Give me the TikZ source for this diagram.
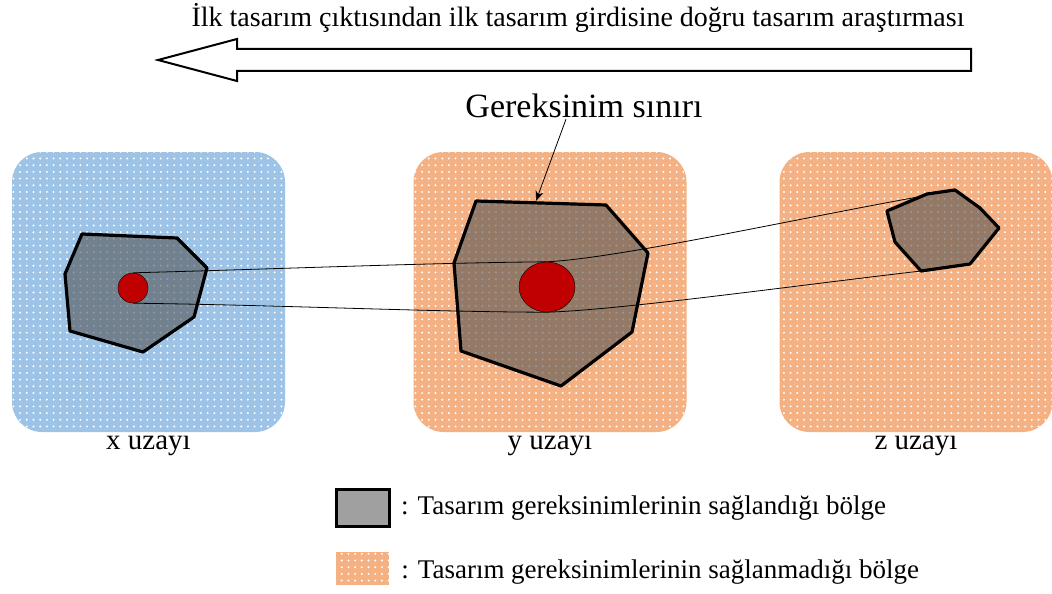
\documentclass[tikz,border=0pt]{standalone}
\usepackage{fontspec}
\setmainfont{Liberation Serif}
\usetikzlibrary{arrows.meta,positioning,shapes.geometric,patterns.meta}
\definecolor{spaceblue}{RGB}{157,195,230}
\definecolor{spaceorange}{RGB}{244,177,131}
\definecolor{corered}{RGB}{192,0,0}
\definecolor{okgray}{RGB}{160,160,160}

\begin{document}
\begin{tikzpicture}[x=1pt,y=-1pt,
  dotfill/.style={pattern={Dots[distance=6.7pt,radius=1.1pt]},pattern color=white},
  space/.style={rounded corners=30pt,minimum width=273pt,minimum height=280pt,
                postaction={dotfill}},
  region/.style={draw,line width=3.2pt,line join=round,
                 fill={rgb,255:red,85;green,85;blue,85},fill opacity=0.6},
  core/.style={draw,thin,fill=corered,inner sep=0pt},
  link/.style={line width=0.8pt},
  pointer/.style={-{Stealth[length=10pt,width=8pt,inset=3pt]},line width=0.8pt},
  lbl/.style={font=\fontsize{29}{31}\selectfont,inner sep=1pt},
  leg/.style={font=\fontsize{27}{29}\selectfont,anchor=west,inner sep=1pt}
]
\useasboundingbox (0,0) rectangle (1052,594);

% heading and the wide hollow arrow
\node[font=\fontsize{28}{30}\selectfont] (title) at (578,18)
  {İlk tasarım çıktısından ilk tasarım girdisine doğru tasarım araştırması};
\draw[line width=2pt,line join=miter] (971,49) -- (237,49) -- (237,39) -- (158,60)
  -- (237,81) -- (237,71) -- (971,71) -- cycle;

% the three spaces
\node[space,fill=spaceblue]   (xspace) at (148.5,292) {};
\node[space,fill=spaceorange] (yspace) at (550,292)   {};
\node[space,fill=spaceorange] (zspace) at (916,292)   {};
\node[lbl,below=2pt of xspace] (xname) {x uzayı};
\node[lbl,below=2pt of yspace] (yname) {y uzayı};
\node[lbl,below=2pt of zspace] (zname) {z uzayı};

% regions where the requirements hold
\draw[region] (82,234) -- (177,238) -- (207,268) -- (194,317) -- (143,352)
  -- (70,331) -- (65,274) -- cycle;
\draw[region] (476,201) -- (606,205) -- (648,253) -- (632,332) -- (561,386)
  -- (461,351) -- (454,263) -- cycle;
\draw[region] (887,211) -- (927,194) -- (955,190) -- (980,208) -- (999,228)
  -- (970,264) -- (921,271) -- (895,242) -- (890,223) -- cycle;

% mapped cores
\node[core,circle,minimum size=30pt] (xcore) at (133,288) {};
\node[core,ellipse,minimum width=56pt,minimum height=50pt] (ycore) at (547,287) {};
\coordinate (ztop) at (918,197);
\coordinate (zbot) at (921,271);

\draw[link] (xcore.north) .. controls (280,269) and (420,263) .. (ycore.north)
  .. controls (620,258) and (800,218) .. (ztop);
\draw[link] (xcore.south) .. controls (280,305) and (430,312) .. (ycore.south)
  .. controls (620,310) and (800,285) .. (zbot);

% requirement boundary label
\node[font=\fontsize{34}{36}\selectfont,inner sep=1pt] (req) at (584,106) {Gereksinim sınırı};
\coordinate (ybound) at (536,201);
\draw[pointer] ([xshift=-18pt]req.south) -- (ybound);

% legend
\node[draw,line width=3pt,fill=okgray,minimum width=53pt,minimum height=37pt] (legok) at (363,508) {};
\node[leg,right=9pt of legok] (legoktxt) {: Tasarım gereksinimlerinin sağlandığı bölge};
\node[fill=spaceorange,postaction={dotfill},minimum width=53pt,minimum height=33pt] (legno) at (362.5,568.5) {};
\node[leg,right=11pt of legno,yshift=-4pt] (legnotxt) {: Tasarım gereksinimlerinin sağlanmadığı bölge};
\end{tikzpicture}
\end{document}
